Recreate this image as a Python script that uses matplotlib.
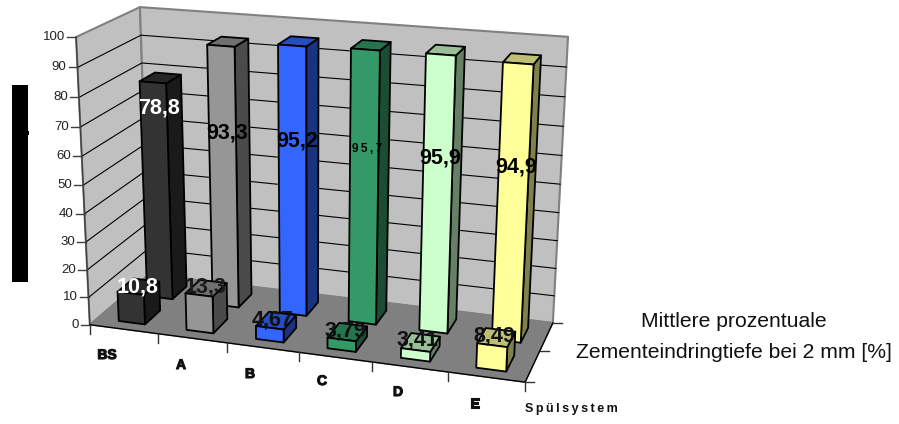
import numpy as np
import matplotlib
matplotlib.use('Agg')
import matplotlib.pyplot as plt
import matplotlib.patheffects as pe
from matplotlib.patches import Polygon, Rectangle

plt.rcParams['font.family'] = ['Liberation Sans', 'DejaVu Sans']

# Data
categories = ['BS', 'A', 'B', 'C', 'D', 'E']
front_values = [10.8, 13.3, 4.67, 3.79, 3.41, 8.49]
back_values = [78.8, 93.3, 95.2, 95.7, 95.9, 94.9]
front_labels = ['10,8', '13,3', '4,67', '3,79', '3,41', '8,49']
back_labels = ['78,8', '93,3', '95,2', '9\u20095\u2009,\u20097', '95,9', '94,9']
yticks = [0, 10, 20, 30, 40, 50, 60, 70, 80, 90, 100]

# Bar colours: front face, top, side
face_colors = ['#333333', '#969696', '#3366FF', '#339966', '#CCFFCC', '#FFFF99']
top_colors = ['#262626', '#707070', '#264CBF', '#267350', '#99BF99', '#BFBF73']
side_colors = ['#1A1A1A', '#4B4B4B', '#1A3380', '#1A4D33', '#668066', '#80804D']
front_text = ['white', '#1a1a1a', '#111111', '#111111', '#111111', '#111111']
back_text = ['white', 'black', 'black', 'black', 'black', 'black']

# Label anchors in pixels
back_label_xy = [(159, 108), (227, 133), (297, 141), (367.5, 149), (440, 158), (516, 167)]
front_label_xy = [(137.5, 287), (205.5, 287), (273, 320), (345, 331), (417, 340), (494, 336)]

# Perspective camera, solved from the box corners (x, value, depth) -> pixel
world = [(0, 0, 0), (0, 100, 0), (0, 0, 1), (0, 100, 1), (6, 100, 1), (6, 0, 1), (6, 0, 0)]
pixel = [(90, 324), (76, 37), (149, 275), (140, 7), (568, 37), (553, 322), (525, 383)]
rows = []
for (a, b, c), (u, v) in zip(world, pixel):
    rows.append([a, b, c, 1, 0, 0, 0, 0, -u*a, -u*b, -u*c, -u])
    rows.append([0, 0, 0, 0, a, b, c, 1, -v*a, -v*b, -v*c, -v])
P = np.linalg.svd(np.array(rows, dtype=float))[2][-1].reshape(3, 4)


def proj(x, y, z):
    h = P @ np.array([x, y, z, 1.0])
    return h[0] / h[2], h[1] / h[2]


fig = plt.figure(figsize=(8.99, 4.24), dpi=100)
ax = fig.add_axes([0, 0, 1, 1])
ax.set_xlim(0, 899)
ax.set_ylim(424, 0)
ax.axis('off')


def quad(pts, color, edge='black', lw=1.3, zo=2):
    ax.add_patch(Polygon([proj(*p) for p in pts], closed=True, facecolor=color,
                         edgecolor=edge, linewidth=lw, joinstyle='round', zorder=zo))


# Walls and floor
quad([(0, 0, 0), (0, 100, 0), (0, 100, 1), (0, 0, 1)], '#C0C0C0', edge='#808080', lw=1.5, zo=1)
quad([(0, 0, 1), (0, 100, 1), (6, 100, 1), (6, 0, 1)], '#C0C0C0', edge='#808080', lw=1.5, zo=1)
quad([(0, 0, 0), (0, 0, 1), (6, 0, 1), (6, 0, 0)], '#808080', edge='#808080', lw=1, zo=1.2)

# Grid lines on the walls
for t in yticks[1:-1]:
    pts = [proj(0, t, 0), proj(0, t, 1), proj(6, t, 1)]
    ax.plot(*zip(*pts), color='black', lw=0.8, zorder=1.5)

# Axis lines and ticks
ax.plot(*zip(proj(0, 0, 0), proj(0, 100, 0)), color='#404040', lw=1.0, zorder=1.6)
ax.plot(*zip(proj(0, 0, 0), proj(6, 0, 0)), color='black', lw=1.0, zorder=1.6)
ax.plot(*zip(proj(6, 0, 0), proj(6, 0, 1)), color='black', lw=1.0, zorder=1.6)
for t in yticks:
    x0, y0 = proj(0, t, 0)
    ax.plot([x0 - 9, x0], [y0, y0], color='#404040', lw=1.0, zorder=1.6)
    ax.text(x0 - 11, y0, str(t), ha='right', va='center', fontsize=9.5, color='#222222')
for i in range(7):
    x0, y0 = proj(i, 0, 0)
    ax.plot([x0, x0], [y0, y0 + 9], color='#333333', lw=1.0, zorder=1.6)
for zt in [0, 0.5, 1]:
    x0, y0 = proj(6, 0, zt)
    ax.plot([x0, x0 + 9], [y0, y0], color='#333333', lw=1.0, zorder=1.6)


def bar(i, v, z0, z1, color, top, side, zo):
    x0, x1 = i + 0.32, i + 0.71
    quad([(x1, 0, z0), (x1, v, z0), (x1, v, z1), (x1, 0, z1)], side, zo=zo)
    quad([(x0, v, z0), (x1, v, z0), (x1, v, z1), (x0, v, z1)], top, zo=zo)
    quad([(x0, 0, z0), (x1, 0, z0), (x1, v, z0), (x0, v, z0)], color, zo=zo)


# Back row first so the front row covers it
for i in range(6):
    bar(i, back_values[i], 0.6, 0.86, face_colors[i], top_colors[i], side_colors[i], 3 + i * 0.01)
for i in range(6):
    bar(i, front_values[i], 0.12, 0.38, face_colors[i], top_colors[i], side_colors[i], 4 + i * 0.01)

# Value labels
for i in range(6):
    fs = 8.5 if i == 3 else 15.5
    ax.text(*back_label_xy[i], back_labels[i], ha='center', va='center', fontsize=fs,
            fontweight='bold', color=back_text[i], zorder=6)
    ax.text(*front_label_xy[i], front_labels[i], ha='center', va='center', fontsize=15.5,
            fontweight='bold', color=front_text[i], zorder=6)

# Category labels under the front edge
cat_xy = [(107, 355), (181, 365), (250, 374), (322, 381), (398, 392), (475, 404)]
for i, c in enumerate(categories):
    t = ax.text(cat_xy[i][0], cat_xy[i][1], c, ha='center', va='center', fontsize=10,
                fontweight='bold', color='#111111')
    t.set_path_effects([pe.withStroke(linewidth=0.8, foreground='#111111')])

ax.text(571, 409, 'S\u2009p\u2009ü\u2009l\u2009s\u2009y\u2009s\u2009t\u2009e\u2009m', ha='center',
        va='center', fontsize=9, fontweight='bold', color='#111111')
ax.text(734, 337, 'Mittlere prozentuale\nZementeindringtiefe bei 2 mm [%]', ha='center',
        va='center', fontsize=15.2, color='#111111', linespacing=1.8)

# Solid title block left of the axis
ax.add_patch(Rectangle((12, 85), 16, 197, facecolor='black', edgecolor='none', zorder=5))
ax.add_patch(Rectangle((28, 131), 1.2, 4, facecolor='black', edgecolor='none', zorder=5))

fig.savefig('out.png', dpi=100)
